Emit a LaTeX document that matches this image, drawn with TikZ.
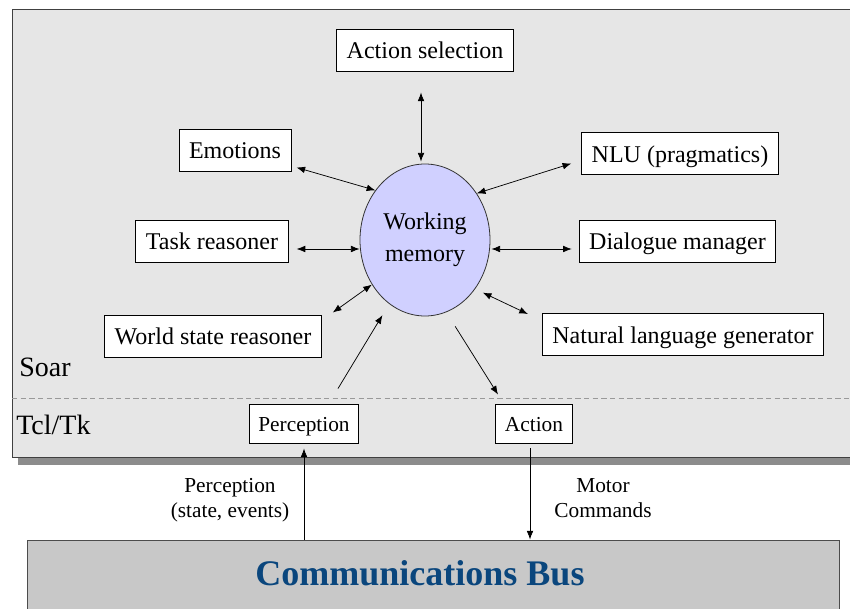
\documentclass[tikz,border=0pt]{standalone}
\usepackage{fontspec}
\setmainfont{LiberationSerif}[Extension=.ttf,UprightFont=*-Regular,BoldFont=*-Bold,ItalicFont=*-Italic,BoldItalicFont=*-BoldItalic]
\usetikzlibrary{arrows.meta,shapes.geometric,calc}

\definecolor{soarbg}{RGB}{230,230,230}
\definecolor{shadowgray}{RGB}{140,140,140}
\definecolor{wmfill}{RGB}{208,208,255}
\definecolor{busgray}{RGB}{200,200,200}
\definecolor{busblue}{RGB}{10,70,125}

\tikzset{
  modbox/.style={draw=black,fill=white,line width=0.7pt,inner xsep=7.5pt,inner ysep=0pt,
    minimum height=31.5pt,text height=15pt,text depth=1.5pt,font=\fontsize{18}{22}\selectfont},
  tclbox/.style={draw=black,fill=white,line width=0.7pt,inner xsep=7pt,inner ysep=0pt,
    minimum height=29.25pt,text height=13pt,text depth=0.75pt,font=\fontsize{16}{19}\selectfont},
  biarrow/.style={{Latex[length=6.5pt,width=5pt]}-{Latex[length=6.5pt,width=5pt]},line width=0.55pt},
  onearrow/.style={-{Latex[length=6.5pt,width=5pt]},line width=0.55pt},
}

\begin{document}
\begin{tikzpicture}[x=0.75pt,y=0.75pt,yscale=-1,xscale=1]
\useasboundingbox (0,0) rectangle (850,609);
\clip (0,0) rectangle (850,609);

%Shape: Rectangle (shadow)
\fill [shadowgray] (18,17) rectangle (880,465);
%Shape: Rectangle (Soar area)
\draw [draw=black!75,fill=soarbg,line width=0.7pt] (12,9) rectangle (874,457);
%Straight Lines (Soar / Tcl boundary)
\draw [draw=black!40,line width=0.7pt,dash pattern=on 4pt off 2.5pt] (12,398) -- (850,398);

% Text Node
\node [anchor=base west,inner sep=0pt,font=\fontsize{21}{25}\selectfont] (soar) at (19,377) {Soar};
% Text Node
\node [anchor=base west,inner sep=0pt,font=\fontsize{21}{25}\selectfont] (tcl) at (16,435) {Tcl/Tk};

%Shape: Ellipse
\node [ellipse,draw=black!80,fill=wmfill,line width=0.6pt,minimum width=97.5pt,minimum height=114pt,
  inner sep=0pt,align=center,font=\fontsize{18}{24}\selectfont] (wm) at (425,240) {Working\\memory};

% Module boxes
\node [modbox] (asel) at (425,50) {Action selection};
\node [modbox] (emo) at (235,150) {Emotions};
\node [modbox] (task) at (212,241) {Task reasoner};
\node [modbox] (ws) at (213,336) {World state reasoner};
\node [modbox] (nlu) at (680,153.5) {NLU (pragmatics)};
\node [modbox] (dlg) at (677.5,241) {Dialogue manager};
\node [modbox] (nlg) at (683,334.5) {Natural language generator};

% Tcl/Tk boxes
\node [tclbox] (per) at (304,423.5) {Perception};
\node [tclbox] (act) at (534,423.5) {Action};

%Shape: Rectangle (bus)
\node [draw=black!70,fill=busgray,line width=0.7pt,minimum width=609pt,minimum height=57pt,inner sep=0pt] (bus) at (433,578) {};
% Text Node
\node [inner sep=0pt,text=busblue,font=\fontsize{27}{32}\selectfont\bfseries] (busl) at (420,573) {Communications Bus};

% Text Node
\node [align=center,inner sep=0pt,font=\fontsize{16}{19}\selectfont] (perlbl) at (230,500) {Perception\\(state, events)};
% Text Node
\node [align=center,inner sep=0pt,font=\fontsize{16}{19}\selectfont] (motor) at (603,498) {Motor\\Commands};

%Straight Lines
\draw [biarrow] ($(asel.south)+(-4,21)$) -- ($(wm.north)+(-4,-2)$);
\draw [biarrow] ($(emo.south east)+(5,-4)$) -- (wm.135);
\draw [biarrow] ($(task.east)+(8,8)$) -- ($(wm.west)+(0,9)$);
\draw [biarrow] ($(ws.north east)+(11,-2)$) -- (wm.220);
\draw [biarrow] (wm.42) -- ($(nlu.west)+(-10,10)$);
\draw [biarrow] ($(wm.east)+(1,9)$) -- ($(dlg.west)+(-7,8)$);
\draw [biarrow] ($(wm.-42)+(6,6)$) -- ($(nlg.north west)+(-14,1)$);
\draw [onearrow] ($(per.north)+(34,-15)$) -- ($(wm.241)+(-7,11)$);
\draw [onearrow] ($(wm.-72)+(7,15)$) -- ($(act.north)+(-36,-9)$);
\draw [onearrow] (per.south |- bus.north) -- ($(per.south)+(0,5)$);
\draw [onearrow] ($(act.south)+(-4,5)$) -- ($(act.south |- bus.north)+(-4,0)$);

\end{tikzpicture}
\end{document}
